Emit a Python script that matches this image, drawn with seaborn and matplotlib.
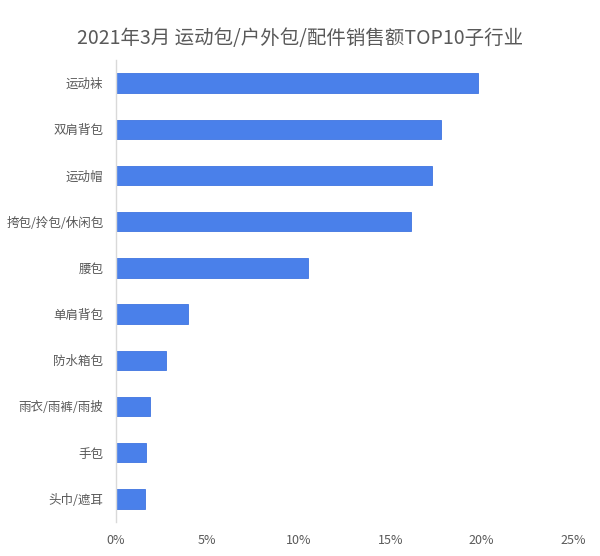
import seaborn as sns
import matplotlib.pyplot as plt
import pandas as pd
from matplotlib.ticker import PercentFormatter

# 子行业及销售额占比(%)
categories = ['运动袜', '双肩背包', '运动帽', '挎包/拎包/休闲包', '腰包',
              '单肩背包', '防水箱包', '雨衣/雨裤/雨披', '手包', '头巾/遮耳']
share = [19.8, 17.76, 17.29, 16.12, 10.52, 3.96, 2.74, 1.86, 1.64, 1.59]

df = pd.DataFrame({'cat': categories, 'share': share})

sns.set_style('white')
plt.rcParams['font.family'] = ['Noto Sans CJK SC', 'DejaVu Sans']

fig = plt.figure(figsize=(6, 5.56), dpi=100)
ax = fig.add_axes([0.1933, 0.0612, 0.7617, 0.8308])

sns.barplot(data=df, x='share', y='cat', orient='h', color='#4a80ea',
            saturation=1, width=0.42, edgecolor='#3f74e0', linewidth=0.6, ax=ax)

ax.set_xlim(0, 25)
ax.set_xticks([0, 5, 10, 15, 20, 25])
ax.xaxis.set_major_formatter(PercentFormatter(decimals=0))
ax.set_xlabel('')
ax.set_ylabel('')
for s in ['top', 'right', 'bottom']:
    ax.spines[s].set_visible(False)
ax.spines['left'].set_color('#d9d9d9')
ax.spines['left'].set_linewidth(1)
ax.tick_params(axis='both', length=0, labelsize=9, colors='#595959')
ax.tick_params(axis='y', pad=9)
ax.tick_params(axis='x', pad=9)

fig.suptitle('2021年3月 运动包/户外包/配件销售额TOP10子行业', y=0.95,
             fontsize=14, color='#595959')

plt.savefig('out.png', dpi=100)
